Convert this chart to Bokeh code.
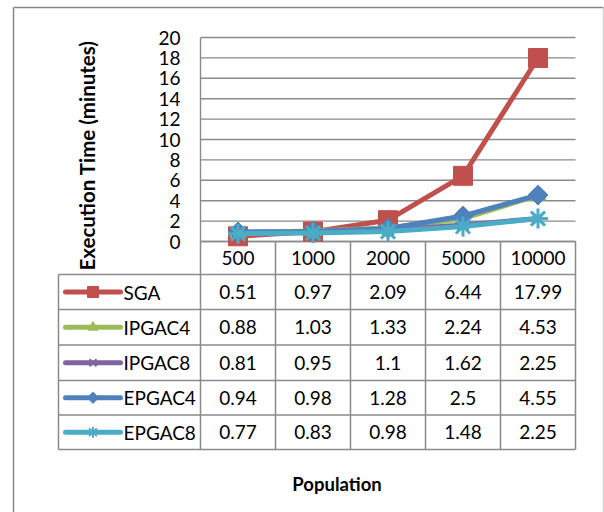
import math
from bokeh.plotting import figure
from bokeh.models import Range1d
from bokeh.core.properties import value
from bokeh.embed import file_html
from bokeh.resources import INLINE

# ---------------- data ----------------
categories = ["500", "1000", "2000", "5000", "10000"]
series_names = ["SGA", "IPGAC4", "IPGAC8", "EPGAC4", "EPGAC8"]
sga = [0.51, 0.97, 2.09, 6.44, 17.99]
ipgac4 = [0.88, 1.03, 1.33, 2.24, 4.53]
ipgac8 = [0.81, 0.95, 1.1, 1.62, 2.25]
epgac4 = [0.94, 0.98, 1.28, 2.5, 4.55]
epgac8 = [0.77, 0.83, 0.98, 1.48, 2.25]
y_ticks = [0, 2, 4, 6, 8, 10, 12, 14, 16, 18, 20]
y_tick_labels = [str(t) for t in y_ticks]
y_title = "Execution Time (minutes)"
x_title = "Population"

series_values = [sga, ipgac4, ipgac8, epgac4, epgac8]

# ---------------- styles ----------------
colors = ["#C0504D", "#9BBB59", "#8064A2", "#4F81BD", "#4BACC6"]
markers = ["square", "triangle", "x", "square", "asterisk"]
marker_angles = [0, 0, 0, math.pi / 4, 0]
marker_sizes = [19, 16, 15, 14, 20]
legend_marker_sizes = [11, 10, 10, 8, 11]
FONT = "Lato"
FS = "19px"
GRID = "#8a8a8a"

W, H = 604, 512
# pixel geometry of plot area
PX_LEFT, PX_COL = 200.0, 75.0
PX_ZERO, PX_PER_UNIT = 241.0, 10.2
cx0 = PX_LEFT + PX_COL / 2.0

p = figure(width=W, height=H, min_border=0,
           x_range=Range1d(-cx0 / PX_COL, (W - cx0) / PX_COL),
           y_range=Range1d((PX_ZERO - H) / PX_PER_UNIT, PX_ZERO / PX_PER_UNIT),
           x_axis_location=None, y_axis_location=None,
           toolbar_location=None, output_backend="svg")
p.outline_line_color = None
p.grid.grid_line_color = None
p.background_fill_color = "white"
p.border_fill_color = "white"
p.extra_x_ranges = {"px": Range1d(0, W)}
p.extra_y_ranges = {"px": Range1d(H, 0)}

n = len(categories)
xs = list(range(n))
x_lo, x_hi = -0.5, n - 0.5

# outer chart border
p.segment(x0=[13, 13], y0=[7, 7], x1=[13, 603], y1=[520, 7],
          line_color="#888888", line_width=1.5, x_range_name="px", y_range_name="px")
p.segment(x0=[603], y0=[7], x1=[603], y1=[520],
          line_color="#d4d4d4", line_width=1.5, x_range_name="px", y_range_name="px")

# horizontal gridlines (plot area)
p.segment(x0=[x_lo] * len(y_ticks), x1=[x_hi] * len(y_ticks), y0=y_ticks, y1=y_ticks,
          line_color=GRID, line_width=1.4)
# value axis line
p.segment(x0=[x_lo], x1=[x_lo], y0=[0], y1=[max(y_ticks)], line_color=GRID, line_width=1.4)

# y tick labels
p.text(x=[(180 - cx0) / PX_COL] * len(y_ticks), y=y_ticks, text=y_tick_labels,
       text_align="right", text_baseline="middle", text_font=value(FONT),
       text_font_size=FS, text_color="black")

# ---------------- data table geometry (pixel units) ----------------
header_center = 257.5
row_lines = [274, 309, 344.5, 380, 414.5, 449]
row_centers = [(row_lines[i] + row_lines[i + 1]) / 2 for i in range(len(row_lines) - 1)]
table_left = 58
table_right = PX_LEFT + PX_COL * n

# vertical table lines at category boundaries
bounds = [i - 0.5 for i in range(n + 1)]
p.segment(x0=bounds, x1=bounds, y0=[PX_ZERO] * len(bounds), y1=[row_lines[-1]] * len(bounds),
          line_color=GRID, line_width=1.5, y_range_name="px")
# horizontal table lines
p.segment(x0=[table_left] * len(row_lines), x1=[table_right] * len(row_lines),
          y0=row_lines, y1=row_lines, line_color=GRID, line_width=1.5,
          x_range_name="px", y_range_name="px")
# left border of legend column
p.segment(x0=[table_left], x1=[table_left], y0=[row_lines[0]], y1=[row_lines[-1]],
          line_color=GRID, line_width=1.5, x_range_name="px", y_range_name="px")
# category axis line
p.segment(x0=[x_lo], x1=[x_hi], y0=[0], y1=[0], line_color=GRID, line_width=1.5)

# header labels
p.text(x=xs, y=[header_center] * n, text=categories, text_align="center",
       text_baseline="middle", text_font=value(FONT), text_font_size=FS,
       text_color="black", y_range_name="px")

# ---------------- series lines ----------------
for vals, c, m, a, s in zip(series_values, colors, markers, marker_angles, marker_sizes):
    p.line(x=xs, y=vals, line_color=c, line_width=5, line_join="round")
    if m in ("x", "asterisk"):
        p.scatter(x=xs, y=vals, marker=m, size=s, line_color=c, line_width=3)
    else:
        p.scatter(x=xs, y=vals, marker=m, size=s, angle=a, fill_color=c, line_color=c)

# ---------------- table rows ----------------
for r, (name, vals, c, m, a, ls) in enumerate(zip(series_names, series_values, colors,
                                                   markers, marker_angles, legend_marker_sizes)):
    yc = row_centers[r]
    p.line(x=[65, 120], y=[yc, yc], line_color=c, line_width=5, line_cap="round",
           x_range_name="px", y_range_name="px")
    if m in ("x", "asterisk"):
        p.scatter(x=[92.5], y=[yc], marker=m, size=ls, line_color=c, line_width=2,
                  x_range_name="px", y_range_name="px")
    else:
        p.scatter(x=[92.5], y=[yc], marker=m, size=ls, angle=a, fill_color=c, line_color=c,
                  x_range_name="px", y_range_name="px")
    p.text(x=[123], y=[yc], text=[name], text_align="left", text_baseline="middle",
           text_font=value(FONT), text_font_size=FS, text_color="black",
           x_range_name="px", y_range_name="px")
    p.text(x=xs, y=[yc] * n, text=[f"{v:g}" for v in vals], text_align="center",
           text_baseline="middle", text_font=value(FONT), text_font_size=FS,
           text_color="black", y_range_name="px")

# axis titles
p.text(x=[86], y=[155], text=[y_title], angle=math.pi / 2, text_align="center",
       text_baseline="middle", text_font=value(FONT), text_font_style="bold",
       text_font_size="20.5px", text_color="black", x_range_name="px", y_range_name="px")
p.text(x=[336.5], y=[483], text=[x_title], text_align="center",
       text_baseline="middle", text_font=value(FONT), text_font_style="bold",
       text_font_size="18.5px", text_color="black", x_range_name="px", y_range_name="px")

open("out.html", "w").write(file_html(p, INLINE))
